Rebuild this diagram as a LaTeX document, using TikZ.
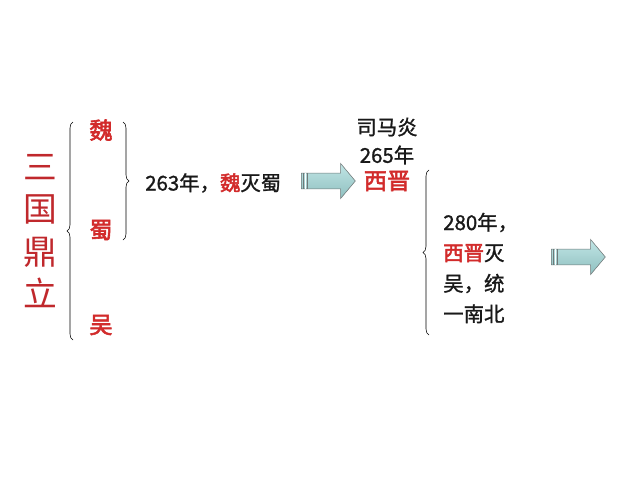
\documentclass[tikz,border=0pt]{standalone}
\usepackage{fontspec}
\setmainfont{Noto Sans CJK SC}[AutoFakeBold=2.5]
\newfontfamily\heavytext{Noto Sans CJK SC}[FakeBold=1.2, AutoFakeBold=2.5]
\usetikzlibrary{shapes.arrows, decorations.pathreplacing}
\definecolor{dynastyRed}{HTML}{D22B2B}
\definecolor{titleRed}{HTML}{C0282C}
\definecolor{arrowTeal}{HTML}{9FD6D6}
\definecolor{arrowEdge}{HTML}{6F7878}

\begin{document}
\begin{tikzpicture}[x=0.025cm, y=-0.025cm,
    txt/.style={font=\heavytext\fontsize{14.5}{17}\selectfont, text=black!90, inner sep=0pt},
    kingdom/.style={font=\fontsize{16.5}{20}\selectfont\bfseries, text=dynastyRed, inner sep=0pt},
    bracket/.style={decorate, decoration={brace, amplitude=1.5mm}, thin},
    blockarrow/.style={single arrow, draw=arrowEdge, top color=arrowTeal!65, bottom color=arrowTeal!90!black,
      minimum height=13.5mm, inner xsep=0pt, inner ysep=1.9mm,
      single arrow head extend=2.4mm, single arrow tip angle=100}]
    \useasboundingbox[fill=white] (0,0) rectangle (640,480);
    % three kingdoms
    \node[align=center, text=titleRed, font=\fontsize{24}{30}\selectfont, inner sep=0pt] (title) at (40,231)
      {三\\国\\鼎\\立};
    \node[kingdom] (wei) at (101,130) {魏};
    \node[kingdom] (shu) at (101,230) {蜀};
    \node[kingdom] (wu) at (101,325) {吴};
    \coordinate (b1top) at (73,122);
    \coordinate (b1bot) at (73,340);
    \draw[bracket] (b1bot) -- (b1top);
    \coordinate (b2top) at (123,122);
    \coordinate (b2bot) at (123,240);
    \draw[bracket] (b2top) -- (b2bot);
    \node[txt, anchor=west] (fall263) at (145,183)
      {263年，{\color{dynastyRed}\bfseries 魏}灭蜀};
    \node[blockarrow] (ar1) at (325,181) {};
    \draw[white, line width=0.9pt] ([xshift=1.1mm]ar1.after tail) -- ([xshift=1.1mm]ar1.before tail);
    \draw[arrowEdge] ([xshift=0.6mm]ar1.after tail) -- ([xshift=0.6mm]ar1.before tail);
    \draw[arrowEdge] ([xshift=1.6mm]ar1.after tail) -- ([xshift=1.6mm]ar1.before tail);
    % jin
    \node[txt] (emperor) at (387,127) {司马炎};
    \node[txt] (year265) at (387,155) {265年};
    \node[kingdom] (jin) at (387,181) {西晋};
    \coordinate (b3top) at (429,170);
    \coordinate (b3bot) at (429,335);
    \draw[bracket] (b3bot) -- (b3top);
    \node[txt, anchor=west, align=left, font=\heavytext\fontsize{14.5}{21.7}\selectfont] (unify) at (443,268)
      {280年，\\{\color{dynastyRed}\bfseries 西晋}灭\\吴，统\\一南北};
    \node[blockarrow] (ar2) at (575,257) {};
    \draw[white, line width=0.9pt] ([xshift=1.1mm]ar2.after tail) -- ([xshift=1.1mm]ar2.before tail);
    \draw[arrowEdge] ([xshift=0.6mm]ar2.after tail) -- ([xshift=0.6mm]ar2.before tail);
    \draw[arrowEdge] ([xshift=1.6mm]ar2.after tail) -- ([xshift=1.6mm]ar2.before tail);
\end{tikzpicture}
\end{document}
